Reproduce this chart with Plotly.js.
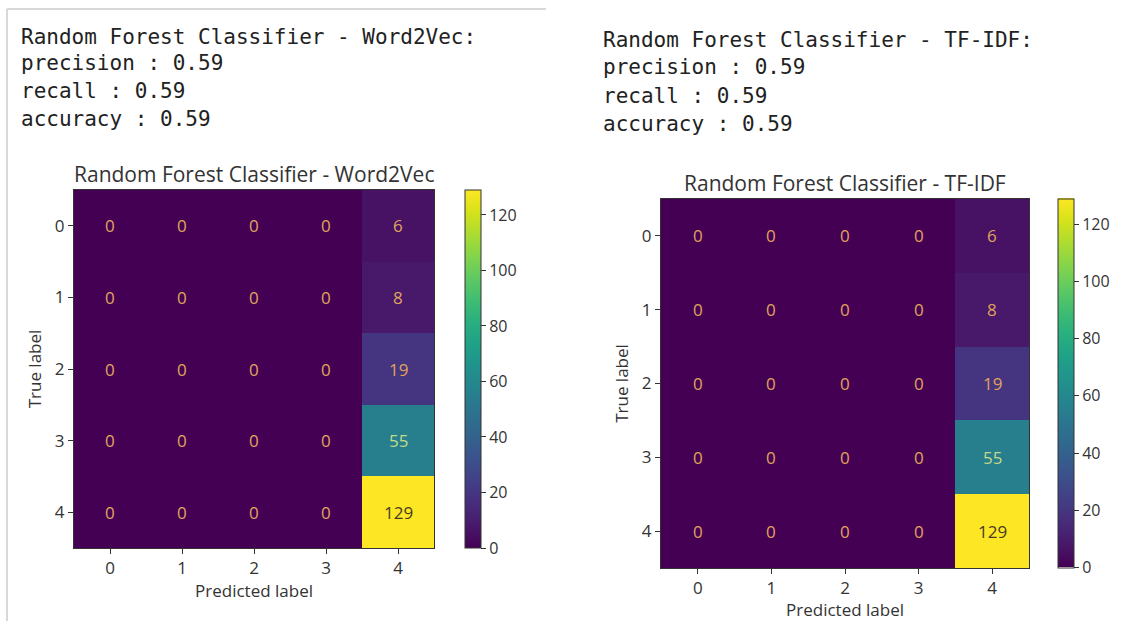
<!DOCTYPE html>
<html>
<head>
<meta charset="utf-8">
<script src="https://cdn.plot.ly/plotly-3.0.1.min.js"></script>
<style>html,body{margin:0;padding:0;background:#fff;}#chart{width:1124px;height:621px;}</style>
</head>
<body>
<div id="chart"></div>
<script>
// ---- data ----
const classLabels = ['0', '1', '2', '3', '4'];
const titleW2V = 'Random Forest Classifier - Word2Vec';
const titleTFIDF = 'Random Forest Classifier - TF-IDF';
const cmW2V = [
  [0, 0, 0, 0, 6],
  [0, 0, 0, 0, 8],
  [0, 0, 0, 0, 19],
  [0, 0, 0, 0, 55],
  [0, 0, 0, 0, 129]
];
const cmTFIDF = [
  [0, 0, 0, 0, 6],
  [0, 0, 0, 0, 8],
  [0, 0, 0, 0, 19],
  [0, 0, 0, 0, 55],
  [0, 0, 0, 0, 129]
];
const metricNames = ['precision', 'recall', 'accuracy'];
const metricsW2V = [0.59, 0.59, 0.59];
const metricsTFIDF = [0.59, 0.59, 0.59];
const colorbarTicks = [0, 20, 40, 60, 80, 100, 120];

// ---- styling ----
const W = 1124, H = 621;
const px = x => x / W;
const py = y => 1 - y / H;
const sans = 'Open Sans, DejaVu Sans, sans-serif';
const mono = 'DejaVu Sans Mono, Liberation Mono, monospace';
const axisColor = '#333';

function textColor(v, zmax) {
  if (v >= zmax / 2) return '#4a3a22';
  if (v > 40) return '#c2d98a';
  return '#e0a35c';
}

function heat(z, xa, ya, cbx, cby, cblen) {
  return {
    type: 'heatmap', z: z, x: classLabels, y: classLabels,
    xaxis: xa, yaxis: ya,
    colorscale: 'Viridis', zmin: 0, zmax: 129,
    hoverinfo: 'skip',
    colorbar: {
      x: cbx, xanchor: 'left', y: cby, yanchor: 'middle',
      len: cblen, lenmode: 'fraction', thickness: 16,
      outlinewidth: 1, outlinecolor: axisColor,
      tickvals: colorbarTicks, ticks: 'outside', ticklen: 5, tickcolor: axisColor,
      tickfont: {family: sans, size: 16, color: '#333'}, xpad: 0, ypad: 0
    }
  };
}

const data = [
  heat(cmW2V, 'x', 'y', px(465), py(369), (548 - 190) / H),
  heat(cmTFIDF, 'x2', 'y2', px(1058), py(383), (568 - 199) / H)
];

function axis(domain, anchor, isY, titleText, standoff) {
  const a = {
    domain: domain, anchor: anchor, type: 'category',
    showline: true, mirror: true, linecolor: axisColor, linewidth: 1,
    ticks: 'outside', ticklen: 5, tickcolor: axisColor,
    tickfont: {family: sans, size: 17, color: '#333'},
    showgrid: false, zeroline: false, fixedrange: true,
    title: {text: titleText, font: {family: sans, size: 17, color: '#333'}, standoff: standoff}
  };
  if (isY) a.autorange = 'reversed';
  return a;
}

const annotations = [];
function cellText(z, xa, ya) {
  z.forEach((row, i) => row.forEach((v, j) => {
    annotations.push({
      x: classLabels[j], y: classLabels[i], xref: xa, yref: ya,
      text: String(v), showarrow: false,
      font: {family: sans, size: 17, color: textColor(v, 129)}
    });
  }));
}
cellText(cmW2V, 'x', 'y');
cellText(cmTFIDF, 'x2', 'y2');

// chart titles
annotations.push({x: px(254), y: py(174), xref: 'paper', yref: 'paper', text: titleW2V,
  showarrow: false, xanchor: 'center', yanchor: 'middle', font: {family: sans, size: 21, color: '#333'}});
annotations.push({x: px(845), y: py(183), xref: 'paper', yref: 'paper', text: titleTFIDF,
  showarrow: false, xanchor: 'center', yanchor: 'middle', font: {family: sans, size: 21, color: '#333'}});

// printed metrics
function printed(title, vals, x0, ys) {
  const lines = [title + ':'].concat(metricNames.map((m, k) => m + ' : ' + vals[k].toFixed(2)));
  lines.forEach((t, k) => annotations.push({
    x: px(x0), y: py(ys[k]), xref: 'paper', yref: 'paper', text: t, showarrow: false,
    xanchor: 'left', yanchor: 'middle', font: {family: mono, size: 21, color: '#222'}
  }));
}
printed(titleW2V, metricsW2V, 19, [37, 63, 91, 119]);
printed(titleTFIDF, metricsTFIDF, 601, [40, 67, 96, 124]);

const layout = {
  width: W, height: H,
  margin: {l: 0, r: 0, t: 0, b: 0},
  paper_bgcolor: '#fff', plot_bgcolor: '#fff',
  showlegend: false,
  xaxis: axis([px(74), px(434)], 'y', false, 'Predicted label', 2),
  yaxis: axis([py(548), py(190)], 'x', true, 'True label', 8),
  xaxis2: axis([px(661), px(1029)], 'y2', false, 'Predicted label', 2),
  yaxis2: axis([py(568), py(199)], 'x2', true, 'True label', 8),
  annotations: annotations,
  shapes: [
    {type: 'line', xref: 'paper', yref: 'paper', x0: px(7), x1: px(546), y0: py(9), y1: py(9),
      line: {color: '#d8d8d8', width: 2}},
    {type: 'line', xref: 'paper', yref: 'paper', x0: px(7), x1: px(7), y0: py(9), y1: py(621),
      line: {color: '#d8d8d8', width: 2}}
  ]
};

Plotly.newPlot('chart', data, layout, {displayModeBar: false, staticPlot: true});
</script>
</body>
</html>
